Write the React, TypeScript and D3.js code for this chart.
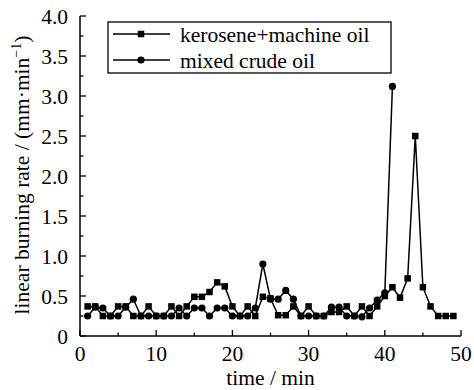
import React from "react";
import * as d3 from "d3";

// Burning time in minutes
const kerosTime = [1,2,3,4,5,6,7,8,9,10,11,12,13,14,15,16,17,18,19,20,21,22,23,24,25,26,27,28,29,30,31,32,33,34,35,36,37,38,39,40,41,42,43,44,45,46,47,48,49];
// kerosene + machine oil, linear burning rate (mm/min)
const kerosRate = [0.37,0.37,0.25,0.25,0.37,0.37,0.25,0.25,0.37,0.25,0.25,0.37,0.25,0.37,0.49,0.49,0.55,0.67,0.62,0.37,0.25,0.37,0.25,0.49,0.47,0.26,0.26,0.37,0.25,0.37,0.25,0.25,0.30,0.30,0.37,0.25,0.37,0.25,0.37,0.50,0.61,0.48,0.72,2.50,0.61,0.37,0.25,0.25,0.25];

const crudeTime = [1,2,3,4,5,6,7,8,9,10,11,12,13,14,15,16,17,18,19,20,21,22,23,24,25,26,27,28,29,30,31,32,33,34,35,36,37,38,39,40,41];
// mixed crude oil, linear burning rate (mm/min)
const crudeRate = [0.25,0.36,0.35,0.25,0.25,0.36,0.46,0.25,0.25,0.25,0.25,0.25,0.35,0.25,0.35,0.35,0.25,0.35,0.35,0.25,0.25,0.25,0.35,0.90,0.46,0.46,0.57,0.46,0.25,0.25,0.25,0.25,0.36,0.36,0.25,0.25,0.24,0.35,0.45,0.54,3.12];

const xTicks = [0, 10, 20, 30, 40, 50];
const xMinor = [5, 15, 25, 35, 45];
const yTicks = [0, 0.5, 1.0, 1.5, 2.0, 2.5, 3.0, 3.5, 4.0];
const yMinor = [0.25, 0.75, 1.25, 1.75, 2.25, 2.75, 3.25, 3.75];

const seriesNames = ["kerosene+machine oil", "mixed crude oil"];

const W = 474;
const H = 390;
const FONT = '"Liberation Serif", "DejaVu Serif", serif';
const txt: React.CSSProperties = { fontFamily: FONT, fontSize: 21.5 };

export default function App() {
  const x = d3.scaleLinear().domain([0, 50]).range([80, 461]);
  const y = d3.scaleLinear().domain([0, 4]).range([336, 16]);

  const kerosPts: [number, number][] = kerosTime.map((t, i) => [x(t), y(kerosRate[i])]);
  const crudePts: [number, number][] = crudeTime.map((t, i) => [x(t), y(crudeRate[i])]);
  const line = d3.line();

  const sq = 6.5;
  const r = 3.6;

  return (
    <svg
      width={W}
      height={H}
      style={{ position: "absolute", left: 0, top: 0, background: "#fff", fontFamily: FONT }}
    >
      <rect x={0} y={0} width={W} height={H} fill="#fff" />

      {/* series lines */}
      <path d={line(kerosPts) ?? ""} fill="none" stroke="#000" strokeWidth={1.5} />
      <path d={line(crudePts) ?? ""} fill="none" stroke="#000" strokeWidth={1.5} />

      {/* markers */}
      {kerosPts.map(([px, py], i) => (
        <rect key={"k" + i} x={px - sq / 2} y={py - sq / 2} width={sq} height={sq} fill="#000" />
      ))}
      {crudePts.map(([px, py], i) => (
        <circle key={"c" + i} cx={px} cy={py} r={r} fill="#000" />
      ))}

      {/* axes */}
      <line x1={80} y1={y(4)} x2={80} y2={336} stroke="#000" strokeWidth={1.5} />
      <line x1={80} y1={336} x2={461} y2={336} stroke="#000" strokeWidth={1.5} />

      {yTicks.map((v) => (
        <g key={"y" + v}>
          <line x1={80} x2={86} y1={y(v)} y2={y(v)} stroke="#000" strokeWidth={1.3} />
          <text x={68} y={y(v)} dy="0.35em" textAnchor="end" style={txt}>
            {v === 0 ? "0" : d3.format(".1f")(v)}
          </text>
        </g>
      ))}
      {yMinor.map((v) => (
        <line key={"ym" + v} x1={80} x2={83.5} y1={y(v)} y2={y(v)} stroke="#000" strokeWidth={1.3} />
      ))}

      {xTicks.map((v) => (
        <g key={"x" + v}>
          <line x1={x(v)} x2={x(v)} y1={336} y2={330} stroke="#000" strokeWidth={1.3} />
          <text x={x(v)} y={361} textAnchor="middle" style={txt}>
            {v}
          </text>
        </g>
      ))}
      {xMinor.map((v) => (
        <line key={"xm" + v} x1={x(v)} x2={x(v)} y1={336} y2={332.5} stroke="#000" strokeWidth={1.3} />
      ))}

      {/* axis titles */}
      <text x={270.5} y={385} textAnchor="middle" style={txt}>
        time / min
      </text>
      <text transform={`translate(29, 175) rotate(-90)`} textAnchor="middle" style={txt}>
        linear burning rate / (mm·min
        <tspan dy={-8} style={{ fontSize: 14 }}>−1</tspan>
        <tspan dy={8}>)</tspan>
      </text>

      {/* legend */}
      <rect x={108} y={22} width={283} height={51} fill="#fff" stroke="#000" strokeWidth={1.3} />
      <line x1={113} x2={170} y1={34} y2={34} stroke="#000" strokeWidth={1.5} />
      <rect x={141 - sq / 2} y={34 - sq / 2} width={sq} height={sq} fill="#000" />
      <text x={180} y={34} dy="0.35em" style={txt}>
        {seriesNames[0]}
      </text>
      <line x1={113} x2={170} y1={60} y2={60} stroke="#000" strokeWidth={1.5} />
      <circle cx={141} cy={60} r={r} fill="#000" />
      <text x={180} y={60} dy="0.35em" style={txt}>
        {seriesNames[1]}
      </text>
    </svg>
  );
}
